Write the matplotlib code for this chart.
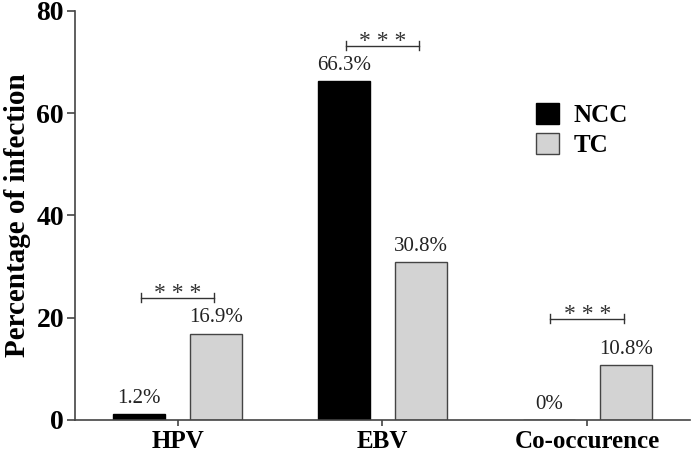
import numpy as np
import matplotlib
matplotlib.use('Agg')
import matplotlib.pyplot as plt

groups = ['HPV', 'EBV', 'Co-occurence']
ncc = [1.2, 66.3, 0.0]
tc = [16.9, 30.8, 10.8]
ncc_labels = ['1.2%', '66.3%', '0%']
tc_labels = ['16.9%', '30.8%', '10.8%']
sig_y = [23.9, 73.2, 19.8]   # height of the *** brackets

plt.rcParams['font.family'] = ['Liberation Serif', 'DejaVu Serif']

fig = plt.figure(figsize=(6.96, 4.55), dpi=100)
ax = fig.add_axes([0.108, 0.077, 0.883, 0.899])

x = np.arange(len(groups))
w = 0.253
off = 0.187
ax.bar(x - off, ncc, w, color='black', edgecolor='black', linewidth=1, label='NCC')
ax.bar(x + off, tc, w, color='#d3d3d3', edgecolor='#444444', linewidth=1, label='TC')

for i in range(len(groups)):
    ax.text(x[i] - off, ncc[i] + 1.2, ncc_labels[i], ha='center', va='bottom',
            fontsize=15, color='#222222')
    ax.text(x[i] + off, tc[i] + 1.2, tc_labels[i], ha='center', va='bottom',
            fontsize=15, color='#222222')
    # significance bracket
    x0, x1 = x[i] - 0.18, x[i] + 0.18
    ax.plot([x0, x1], [sig_y[i], sig_y[i]], color='#333333', lw=1)
    ax.plot([x0, x0], [sig_y[i] - 0.9, sig_y[i] + 0.9], color='#333333', lw=1)
    ax.plot([x1, x1], [sig_y[i] - 0.9, sig_y[i] + 0.9], color='#333333', lw=1)
    ax.text((x0 + x1) / 2, sig_y[i] - 1.2, '* * *', ha='center', va='bottom',
            fontsize=17, color='#333333')

ax.set_xlim(-0.5, 2.5)
ax.set_ylim(0, 80)
ax.set_yticks([0, 20, 40, 60, 80])
ax.set_xticks(x)
ax.set_xticklabels(groups, fontsize=18, fontweight='bold')
for lab in ax.get_yticklabels():
    lab.set_fontsize(20)
    lab.set_fontweight('bold')
ax.set_ylabel('Percentage of infection', fontsize=21, fontweight='bold', labelpad=4)

for s in ['top', 'right']:
    ax.spines[s].set_visible(False)
for s in ['left', 'bottom']:
    ax.spines[s].set_color('#444444')
    ax.spines[s].set_linewidth(1.2)
ax.tick_params(axis='y', direction='out', length=6, width=1.2, color='#444444', pad=2)
ax.tick_params(axis='x', direction='out', length=4, width=1.2, color='#444444', pad=3)

leg = ax.legend(loc='upper left', bbox_to_anchor=(0.714, 0.83), frameon=False,
                prop={'size': 18, 'weight': 'bold'}, handlelength=0.9,
                handleheight=0.9, handletextpad=0.6, labelspacing=0.25)

fig.savefig('out.png', dpi=100)
